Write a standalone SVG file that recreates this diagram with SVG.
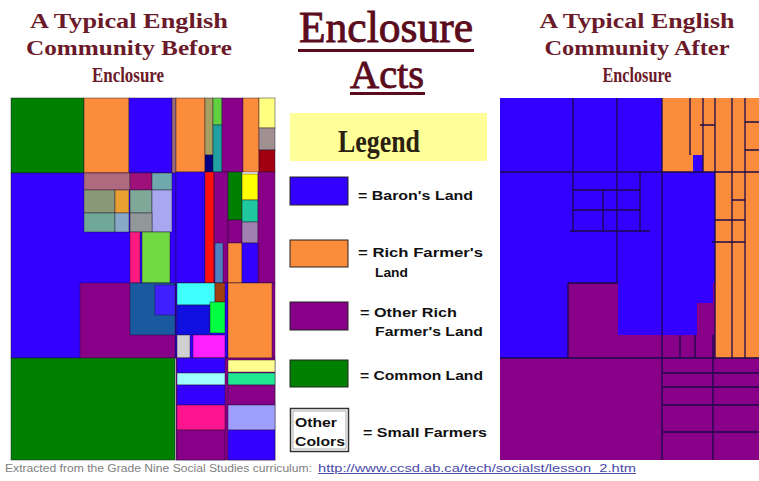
<svg xmlns="http://www.w3.org/2000/svg" width="759" height="481" viewBox="0 0 759 481">
<style>
.t{font-family:"Liberation Serif","Times New Roman",serif;font-weight:bold;fill:#6b1a2a;font-size:22px;text-anchor:middle}
.big{font-family:"Liberation Serif","Times New Roman",serif;fill:#5a0c1c;stroke:#5a0c1c;stroke-width:0.9;text-anchor:middle}
.lg{font-family:"Liberation Sans",Arial,sans-serif;font-weight:bold;font-size:13.5px;fill:#111}
.m rect{stroke:#1e1030;stroke-width:0.8;stroke-opacity:0.55}
.ln{stroke:#1a0a4a;stroke-width:1.3;fill:none}
.B{fill:#3300ff}.O{fill:#fb8c3c}.P{fill:#880088}.G{fill:#008000}
</style>
<rect width="759" height="481" fill="#ffffff"/>

<g id="titles">
<text class="t" x="129" y="28" textLength="198" lengthAdjust="spacingAndGlyphs">A Typical English</text>
<text class="t" x="129" y="55" textLength="206" lengthAdjust="spacingAndGlyphs">Community Before</text>
<text class="t" x="128" y="82" textLength="72" lengthAdjust="spacingAndGlyphs">Enclosure</text>
<text class="t" x="637" y="28" textLength="195" lengthAdjust="spacingAndGlyphs">A Typical English</text>
<text class="t" x="637" y="55" textLength="185" lengthAdjust="spacingAndGlyphs">Community After</text>
<text class="t" x="637" y="82" textLength="69" lengthAdjust="spacingAndGlyphs">Enclosure</text>
<text class="big" x="386" y="42" font-size="44" textLength="174" lengthAdjust="spacingAndGlyphs">Enclosure</text>
<rect x="298" y="49" width="176" height="3" fill="#5a0c1c"/>
<text class="big" x="387" y="88" font-size="41" textLength="74" lengthAdjust="spacingAndGlyphs">Acts</text>
<rect x="350" y="92" width="75" height="3" fill="#5a0c1c"/>
</g>

<g id="before" class="m">
<rect x="11" y="98" width="73" height="75" class="G"/>
<rect x="84" y="98" width="45" height="75" class="O"/>
<rect x="129" y="98" width="43" height="75" class="B"/>
<rect x="172" y="98" width="4" height="75" fill="#9a6a7a"/>
<rect x="11" y="173" width="165" height="185" class="B"/>
<rect x="84" y="173" width="46" height="17" fill="#b06a80"/>
<rect x="130" y="173" width="22" height="17" fill="#a0107a"/>
<rect x="152" y="173" width="20" height="17" fill="#70a8b0"/>
<rect x="84" y="190" width="31" height="23" fill="#8a9a78"/>
<rect x="115" y="190" width="14" height="23" fill="#e8a030"/>
<rect x="130" y="190" width="22" height="23" fill="#80a898"/>
<rect x="152" y="190" width="20" height="42" fill="#a8a8f0"/>
<rect x="84" y="213" width="31" height="19" fill="#70a898"/>
<rect x="115" y="213" width="14" height="19" fill="#88a8c8"/>
<rect x="130" y="213" width="22" height="19" fill="#909898"/>
<rect x="130" y="232" width="10" height="51" fill="#ff1a80"/>
<rect x="142" y="232" width="28" height="51" fill="#70d840"/>
<rect x="80" y="283" width="95" height="75" class="P"/>
<rect x="130" y="283" width="45" height="52" fill="#1a58a0"/>
<rect x="155" y="285" width="20" height="30" fill="#4020ff"/>
<rect x="11" y="358" width="164" height="102" class="G"/>

<rect x="176" y="98" width="29" height="74" class="O"/>
<rect x="205" y="98" width="8" height="57" fill="#a8a060"/>
<rect x="205" y="155" width="8" height="17" fill="#000080"/>
<rect x="213" y="98" width="9" height="27" fill="#60d040"/>
<rect x="213" y="125" width="9" height="47" fill="#20a0a0"/>
<rect x="222" y="98" width="21" height="74" class="P"/>
<rect x="243" y="98" width="16" height="74" class="O"/>
<rect x="259" y="98" width="16" height="30" fill="#ffff80"/>
<rect x="259" y="128" width="16" height="22" fill="#a09090"/>
<rect x="259" y="150" width="16" height="22" fill="#a00010"/>

<rect x="176" y="172" width="29" height="111" class="B"/>
<rect x="205" y="172" width="9" height="111" fill="#ff1010"/>
<rect x="214" y="172" width="14" height="111" class="P"/>
<rect x="215" y="243" width="8" height="40" fill="#5080c0"/>
<rect x="228" y="172" width="14" height="48" class="G"/>
<rect x="228" y="220" width="14" height="23" class="P"/>
<rect x="242" y="174" width="16" height="26" fill="#ffff00"/>
<rect x="242" y="200" width="16" height="22" fill="#20c8a0"/>
<rect x="242" y="222" width="16" height="21" fill="#a080b0"/>
<rect x="258" y="172" width="17" height="111" class="P"/>
<rect x="228" y="243" width="14" height="40" class="O"/>
<rect x="242" y="243" width="16" height="40" class="B"/>

<rect x="176" y="283" width="52" height="75" class="B"/>
<rect x="177" y="283" width="38" height="22" fill="#40ffff"/>
<rect x="215" y="283" width="10" height="19" fill="#a04010"/>
<rect x="177" y="305" width="33" height="30" fill="#1010e0"/>
<rect x="210" y="302" width="15" height="31" fill="#00ff40"/>
<rect x="177" y="335" width="13" height="23" fill="#d0d0d0"/>
<rect x="193" y="335" width="32" height="23" fill="#ff20ff"/>
<rect x="228" y="283" width="47" height="75" class="P"/>
<rect x="228" y="283" width="44" height="75" class="O"/>

<rect x="176" y="358" width="99" height="102" class="P"/>
<rect x="177" y="358" width="48" height="15" class="B"/>
<rect x="177" y="373" width="48" height="12" fill="#a0ffff"/>
<rect x="177" y="385" width="48" height="20" class="B"/>
<rect x="177" y="405" width="48" height="25" fill="#ff1490"/>
<rect x="177" y="430" width="48" height="30" class="P"/>
<rect x="228" y="360" width="47" height="12" fill="#ffff90"/>
<rect x="228" y="373" width="47" height="12" fill="#20e890"/>
<rect x="228" y="385" width="47" height="20" class="P"/>
<rect x="228" y="405" width="47" height="25" fill="#9f9fff"/>
<rect x="228" y="430" width="47" height="30" class="B"/>
</g>

<g id="legend">
<rect x="290" y="113" width="197" height="48" fill="#ffff99"/>
<text x="379" y="152" font-family="'Liberation Serif','Times New Roman',serif" font-weight="bold" font-size="32" fill="#2a2010" text-anchor="middle" textLength="82" lengthAdjust="spacingAndGlyphs">Legend</text>
<g id="leg-baron"><rect x="290" y="177" width="58" height="28" class="B" stroke="#222" stroke-width="1"/><text class="lg" x="358" y="200" textLength="115" lengthAdjust="spacingAndGlyphs">= Baron's Land</text></g>
<g id="leg-rich"><rect x="290" y="240" width="58" height="27" class="O" stroke="#222" stroke-width="1"/><text class="lg" x="358" y="257" textLength="125" lengthAdjust="spacingAndGlyphs">= Rich Farmer's</text><text class="lg" x="375" y="277" textLength="33" lengthAdjust="spacingAndGlyphs">Land</text></g>
<g id="leg-other"><rect x="290" y="302" width="58" height="28" class="P" stroke="#222" stroke-width="1"/><text class="lg" x="360" y="317" textLength="97" lengthAdjust="spacingAndGlyphs">= Other Rich</text><text class="lg" x="375" y="336" textLength="108" lengthAdjust="spacingAndGlyphs">Farmer's Land</text></g>
<g id="leg-common"><rect x="290" y="360" width="58" height="27" class="G" stroke="#222" stroke-width="1"/><text class="lg" x="360" y="380" textLength="123" lengthAdjust="spacingAndGlyphs">= Common Land</text></g>
<g id="leg-small"><rect x="290.5" y="408.5" width="58" height="43" fill="#fff" stroke="#333" stroke-width="1.5"/><rect x="293" y="411" width="53" height="38" fill="none" stroke="#999" stroke-width="0.8"/>
<text class="lg" x="295" y="427" textLength="42" lengthAdjust="spacingAndGlyphs">Other</text><text class="lg" x="295" y="446" textLength="50" lengthAdjust="spacingAndGlyphs">Colors</text>
<text class="lg" x="363" y="437" textLength="124" lengthAdjust="spacingAndGlyphs">= Small Farmers</text></g>
</g>

<g id="after">
<rect x="500" y="98" width="259" height="260" class="B"/>
<rect x="662" y="98" width="97" height="74" class="O"/>
<rect x="693" y="155" width="10" height="17" class="B"/>
<rect x="715" y="172" width="44" height="186" class="O"/>
<rect x="568" y="283" width="147" height="75" class="P"/>
<rect x="618" y="283" width="95" height="20" class="B"/>
<rect x="618" y="303" width="79" height="32" class="B"/>
<rect x="500" y="358" width="259" height="102" class="P"/>
<path class="ln" d="M500 172H759M573 98V232M617 98V283M573 190H640M573 210H640M570 231H650M603 190V231M640 172V231M662 98V460M703 98V172M690 98V155M715 98V358M732 98V358M745 98V358M700 125H715M745 122H759M745 150H759M732 200H745M715 220H745M712 242H745M568 283H618M568 283V358M500 358H759M713 335V460M680 335V358M695 335V358M663 373H759M663 387H759M663 405H759M663 432H759"/>
</g>

<g id="footer">
<text x="5" y="472" font-family="'Liberation Sans',Arial,sans-serif" font-size="10" fill="#808080" textLength="307" lengthAdjust="spacingAndGlyphs">Extracted from the Grade Nine Social Studies curriculum:</text>
<text x="318" y="472" font-family="'Liberation Sans',Arial,sans-serif" font-size="10" fill="#4a4aa8" text-decoration="underline" textLength="318" lengthAdjust="spacingAndGlyphs">http://www.ccsd.ab.ca/tech/socialst/lesson_2.htm</text>
</g>
</svg>
